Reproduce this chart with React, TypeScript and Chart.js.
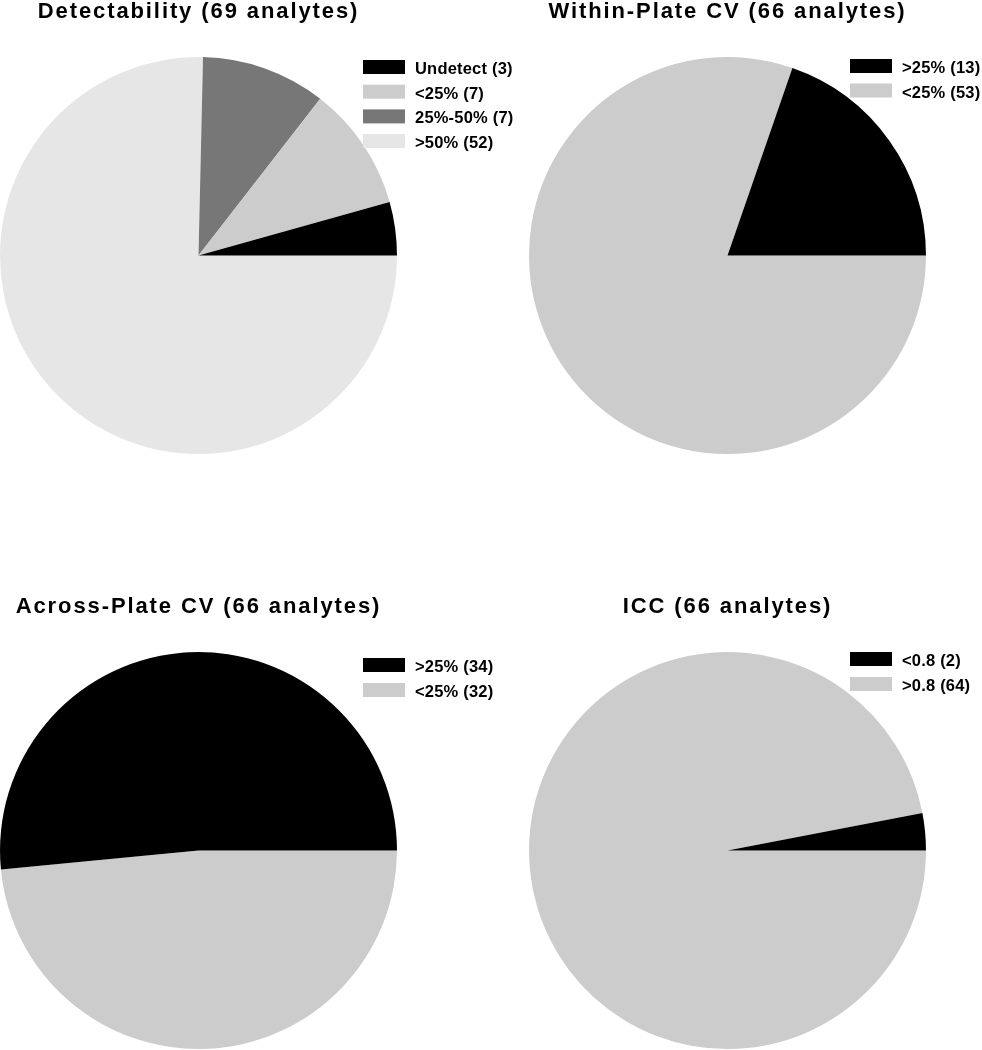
import React, { useEffect, useRef } from "react";
import { Chart, registerables } from "chart.js";

Chart.register(...registerables);

// ---------- Data ----------
const detectTitle = "Detectability (69 analytes)";
const detectCategories = ["Undetect", "<25%", "25%-50%", ">50%"];
const detectCounts = [3, 7, 7, 52];
const detectColors = ["#000000", "#cccccc", "#777777", "#e6e6e6"];

const withinTitle = "Within-Plate CV (66 analytes)";
const withinCategories = [">25%", "<25%"];
const withinCounts = [13, 53];
const withinColors = ["#000000", "#cccccc"];

const acrossTitle = "Across-Plate CV (66 analytes)";
const acrossCategories = [">25%", "<25%"];
const acrossCounts = [34, 32];
const acrossColors = ["#000000", "#cccccc"];

const iccTitle = "ICC (66 analytes)";
const iccCategories = ["<0.8", ">0.8"];
const iccCounts = [2, 64];
const iccColors = ["#000000", "#cccccc"];

// ---------- Styling / layout ----------
const FONT = 'Arial, "Liberation Sans", Helvetica, sans-serif';

type PanelProps = {
  title: string;
  categories: string[];
  counts: number[];
  colors: string[];
  left: number;
  top: number;
  width: number;
  height: number;
  padLeft: number;
  padRight: number;
  legendX: number;
  legendY: number;
  legendGap: number;
};

const titleSpacingPlugin = {
  id: "titleSpacing",
  beforeDraw(chart: any) {
    (chart.ctx as any).letterSpacing = "1.9px";
  },
  beforeDatasetsDraw(chart: any) {
    (chart.ctx as any).letterSpacing = "0px";
  },
};

const boxLegendPlugin = {
  id: "boxLegend",
  afterDraw(chart: any, _args: any, opts: any) {
    const ctx = chart.ctx;
    ctx.save();
    (ctx as any).letterSpacing = "0.2px";
    ctx.font = `bold 16.5px ${FONT}`;
    ctx.textAlign = "left";
    ctx.textBaseline = "alphabetic";
    opts.items.forEach((it: any, i: number) => {
      const y = opts.y + i * opts.gap;
      ctx.fillStyle = it.color;
      ctx.fillRect(opts.x, y, 42, 14);
      ctx.fillStyle = "#000000";
      ctx.fillText(it.text, opts.x + 52, y + 14);
    });
    ctx.restore();
  },
};

function PiePanel(p: PanelProps) {
  const ref = useRef<HTMLCanvasElement | null>(null);

  useEffect(() => {
    if (!ref.current) return;
    const labels = p.categories.map((c, i) => `${c} (${p.counts[i]})`);
    // Chart.js draws clockwise; the reference runs counter-clockwise from 3 o'clock,
    // so feed the slices in reverse order starting at 3 o'clock.
    const revLabels = [...labels].reverse();
    const revCounts = [...p.counts].reverse();
    const revColors = [...p.colors].reverse();

    const chart = new Chart(ref.current, {
      type: "pie",
      data: {
        labels: revLabels,
        datasets: [
          {
            data: revCounts,
            backgroundColor: revColors,
            borderWidth: 0,
            hoverOffset: 0,
            offset: 0,
          },
        ],
      },
      options: {
        responsive: false,
        animation: false,
        events: [],
        rotation: 90,
        layout: { padding: { left: p.padLeft, right: p.padRight, top: 0, bottom: 1 } },
        plugins: {
          legend: { display: false },
          tooltip: { enabled: false },
          title: {
            display: true,
            text: p.title,
            align: "center",
            color: "#000000",
            font: { family: FONT, size: 22, weight: "bold", lineHeight: 1.12 },
            padding: { top: 0, bottom: 32.4 },
          },
          boxLegend: {
            x: p.legendX,
            y: p.legendY,
            gap: p.legendGap,
            items: labels.map((t, i) => ({ text: t, color: p.colors[i] })),
          },
        } as any,
      },
      plugins: [titleSpacingPlugin, boxLegendPlugin],
    });
    return () => chart.destroy();
  }, []);

  return (
    <canvas
      ref={ref}
      width={p.width}
      height={p.height}
      style={{ position: "absolute", left: p.left, top: p.top, width: p.width, height: p.height }}
    />
  );
}

export default function App() {
  useEffect(() => {
    document.body.style.margin = "0";
    document.body.style.background = "#ffffff";
  }, []);

  return (
    <div style={{ position: "relative", width: 982, height: 1050, background: "#ffffff", overflow: "hidden" }}>
      <PiePanel
        title={detectTitle}
        categories={detectCategories}
        counts={detectCounts}
        colors={detectColors}
        left={0}
        top={0}
        width={520}
        height={455}
        padLeft={0}
        padRight={123}
        legendX={363}
        legendY={60}
        legendGap={24.7}
      />
      <PiePanel
        title={withinTitle}
        categories={withinCategories}
        counts={withinCounts}
        colors={withinColors}
        left={520}
        top={0}
        width={462}
        height={455}
        padLeft={9}
        padRight={56}
        legendX={330}
        legendY={59}
        legendGap={24.5}
      />
      <PiePanel
        title={acrossTitle}
        categories={acrossCategories}
        counts={acrossCounts}
        colors={acrossColors}
        left={0}
        top={595}
        width={520}
        height={455}
        padLeft={0}
        padRight={123}
        legendX={363}
        legendY={63}
        legendGap={25}
      />
      <PiePanel
        title={iccTitle}
        categories={iccCategories}
        counts={iccCounts}
        colors={iccColors}
        left={520}
        top={595}
        width={462}
        height={455}
        padLeft={9}
        padRight={56}
        legendX={330}
        legendY={57}
        legendGap={25}
      />
    </div>
  );
}
